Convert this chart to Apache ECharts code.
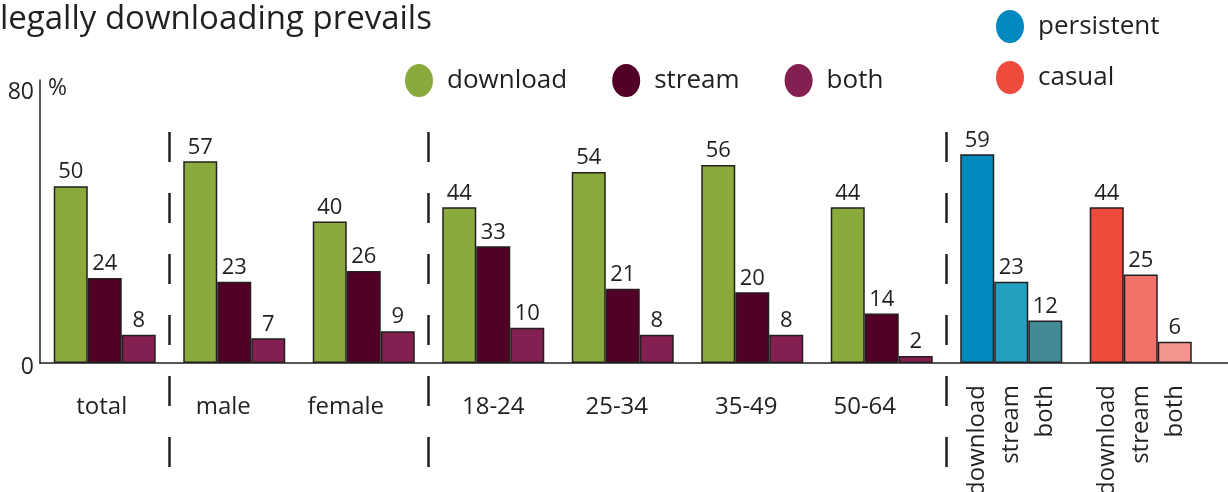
<!DOCTYPE html>
<html><head><meta charset="utf-8">
<script src="https://cdn.jsdelivr.net/npm/echarts@6/dist/echarts.min.js"></script>
<style>html,body{margin:0;padding:0;background:#fff}#c{width:1228px;height:492px}</style>
</head><body><div id="c"></div>
<script>
// ---- data ----
const categories = ['total','male','female','18-24','25-34','35-49','50-64','persistent','casual'];
const download = [50,57,40,44,54,56,44,59,44];
const stream   = [24,23,26,33,21,20,14,23,25];
const both     = [8,7,9,10,8,8,2,12,6];
const yTicks = [0, 80];
const barNames = ['download','stream','both'];
const groupLegend = ['persistent','casual'];
const splitGroups = ['persistent','casual'];          // groups labelled bar by bar
const separatorsBefore = ['male','18-24','persistent'];

// ---- styles ----
const FONT = "'Open Sans', sans-serif";
const INK = '#231f20';
const BAR_W = 34;
const baseColors = ['#8aaa3e','#520026','#831f51'];
const groupColors = { persistent: ['#0088bf','#21a0c0','#438a97'], casual: ['#ef4b3d','#f3736a','#f5968e'] };
const legendColors = { persistent: '#0088bf', casual: '#ef4b3d' };
const labelNudge = { total:-3, male:-11, female:-18, '18-24':0, '25-34':-6, '35-49':-6, '50-64':-17 };
const SEP_UP = 231, SEP_DOWN = 110;
const ELLIPSE = 'path://M14,0 A14,16.5 0 1,1 14,33 A14,16.5 0 1,1 14,0 Z';

function barSeries(name, values, k) {
  return {
    name, type: 'bar', xAxisIndex: 0, yAxisIndex: 0,
    barWidth: BAR_W, barGap: '0%',
    itemStyle: { color: baseColors[k], borderColor: INK, borderWidth: 1.5 },
    label: { show: true, position: 'top', distance: 3, color: INK, fontFamily: FONT, fontSize: 22 },
    data: values.map((v, i) => {
      const g = groupColors[categories[i]];
      return g ? { value: v, itemStyle: { color: g[k] } } : v;
    })
  };
}

const splitLabelData = [];
splitGroups.forEach(g => {
  const gi = categories.indexOf(g);
  barNames.forEach((b, k) => splitLabelData.push([gi, 0, k]));
});
const sepData = separatorsBefore.map(c => [categories.indexOf(c), 0]);

const legendCommon = {
  padding: 0, icon: ELLIPSE, selectedMode: false,
  itemWidth: 28, itemHeight: 33,
  itemStyle: { borderWidth: 0, opacity: 1 },
  textStyle: { fontFamily: FONT, fontSize: 26, color: INK, padding: [0, 0, 8, 9] }
};

const chart = echarts.init(document.getElementById('c'), null, { renderer: 'canvas' });
chart.setOption({
  backgroundColor: '#fff',
  animation: false,
  title: {
    text: 'legally downloading prevails', left: 0, top: 0, padding: [3, 0, 0, 0],
    textStyle: { fontFamily: FONT, fontSize: 33, fontWeight: 'normal', color: INK }
  },
  legend: [
    Object.assign({}, legendCommon, { data: barNames, left: 405, top: 64, itemGap: 45 }),
    Object.assign({}, legendCommon, { data: groupLegend, left: 996, top: 10, orient: 'vertical', itemGap: 18 })
  ],
  grid: [
    { left: 40, right: 22.5, top: 80, bottom: 129 },
    { left: 40, right: 0, top: 80, bottom: 129 }
  ],
  xAxis: [
    {
      type: 'category', gridIndex: 0,
      data: categories.map(c => {
        const n = labelNudge[c] || 0;
        return { value: c, textStyle: { padding: [0, Math.max(0, -2 * n), 0, Math.max(0, 2 * n)] } };
      }),
      axisLine: { show: false }, axisTick: { show: false },
      axisLabel: {
        margin: 32, color: INK, fontFamily: FONT, fontSize: 24, interval: 0,
        formatter: v => splitGroups.includes(v) ? '' : v
      }
    },
    {
      type: 'value', gridIndex: 1, min: 0, max: 1,
      axisLine: { show: true, lineStyle: { color: INK, width: 1.5 } },
      axisTick: { show: false }, axisLabel: { show: false }, splitLine: { show: false }
    }
  ],
  yAxis: [
    {
      type: 'value', gridIndex: 0, min: yTicks[0], max: yTicks[yTicks.length - 1], interval: yTicks[1] - yTicks[0],
      axisLine: { show: true, lineStyle: { color: INK, width: 1.5 } },
      axisTick: { show: false }, splitLine: { show: false },
      axisLabel: {
        margin: 6,
        formatter: v => v === yTicks[yTicks.length - 1] ? '{hi|' + v + '}' : '{lo|' + v + '}',
        rich: {
          hi: { fontFamily: FONT, fontSize: 23, color: INK, padding: [24, 0, 0, 0] },
          lo: { fontFamily: FONT, fontSize: 23, color: INK, padding: [8, 0, 0, 0] }
        }
      },
      name: '%', nameLocation: 'end', nameGap: -8,
      nameTextStyle: { fontFamily: FONT, fontSize: 23, color: INK, align: 'left', verticalAlign: 'middle', padding: [0, 0, 0, 8] }
    },
    { type: 'value', gridIndex: 1, show: false, min: 0, max: 1 }
  ],
  series: [
    barSeries('download', download, 0),
    barSeries('stream', stream, 1),
    barSeries('both', both, 2),
    ...groupLegend.map(n => ({
      name: n, type: 'custom', coordinateSystem: 'none', data: [],
      renderItem: () => null,
      itemStyle: { color: legendColors[n], opacity: 1 }
    })),
    {
      type: 'custom', xAxisIndex: 0, yAxisIndex: 0, silent: true, clip: false,
      encode: { x: 0, y: 1 }, data: splitLabelData,
      renderItem(params, api) {
        const p = api.coord([api.value(0), 0]);
        const k = api.value(2);
        return {
          type: 'text', x: p[0] + (k - 1) * BAR_W, y: p[1] + 22, rotation: Math.PI / 2,
          style: { text: barNames[k], align: 'right', verticalAlign: 'middle', fill: INK, font: '24px ' + FONT }
        };
      }
    },
    {
      type: 'custom', xAxisIndex: 0, yAxisIndex: 0, silent: true, clip: false,
      encode: { x: 0, y: 1 }, data: sepData,
      renderItem(params, api) {
        const p = api.coord([api.value(0), 0]);
        const w = api.size([1, 0])[0];
        const x = p[0] - w / 2;
        return {
          type: 'line',
          shape: { x1: x, y1: p[1] - SEP_UP, x2: x, y2: p[1] + SEP_DOWN },
          style: { stroke: INK, lineWidth: 2.5, lineDash: [30, 31] }
        };
      }
    }
  ]
});
</script>
</body></html>
